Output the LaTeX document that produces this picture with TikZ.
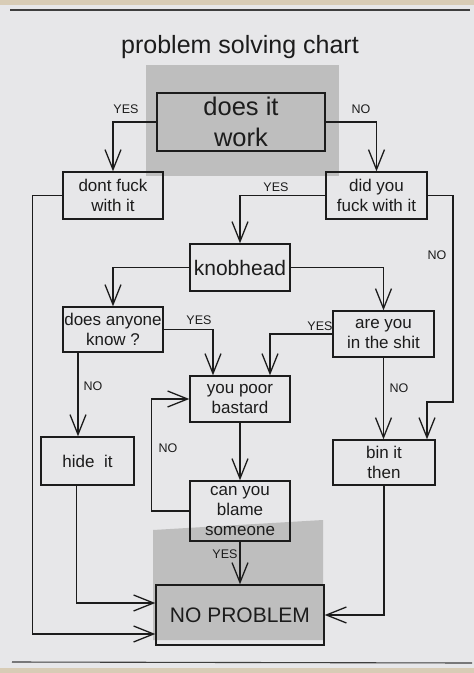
\documentclass[tikz,border=0pt]{standalone}
\usepackage{fontspec}
\setmainfont{Liberation Sans}
\usetikzlibrary{calc,arrows.meta}
\definecolor{paper}{HTML}{E7E7E9}
\definecolor{smudge}{HTML}{BEBEBE}
\definecolor{paperedge}{HTML}{D8CCB6}
\definecolor{ink}{HTML}{1C1C1C}

\begin{document}
\begin{tikzpicture}[x=1pt,y=-1pt,
   box/.style={draw=ink,line width=1.3pt,inner sep=0pt,align=center,
      text=ink,font=\fontsize{17}{20}\selectfont},
   yn/.style={inner sep=0pt,text=ink,font=\fontsize{12.5}{13}\selectfont},
   flow/.style={draw=ink,line width=1.3pt,-{Straight Barb[length=20pt,width=16pt]}},
   rule/.style={draw=ink!85,line width=1.1pt}]
\fill[paper] (0,0) rectangle (474,673);
\fill[paperedge] (0,0) rectangle (474,5);
\fill[paperedge] (0,668) rectangle (474,673);
\draw[rule] (10,10) -- (470,10);
\draw[rule] (12,662) -- (472,663);
\fill[smudge] (146,65) rectangle (339,176);
\fill[smudge] (153,530) -- (323,520) -- (323,640) -- (153,640) -- cycle;

\node[anchor=base,text=ink,font=\fontsize{25}{30}\selectfont] (title) at (240,53) {problem solving chart};

\node[box,minimum width=168pt,minimum height=58pt,font=\fontsize{25.5}{31}\selectfont] (work) at (241,122) {does it\\work};
\node[box,minimum width=100pt,minimum height=47pt] (dontfuck) at (113,195.5) {dont fuck\\with it};
\node[box,minimum width=101pt,minimum height=47pt] (didyou) at (376.5,195.5) {did you\\fuck with it};
\node[box,minimum width=100pt,minimum height=47pt,font=\fontsize{21}{24}\selectfont] (knobhead) at (240,267.5) {knobhead};
\node[box,minimum width=100pt,minimum height=45pt] (anyone) at (113,329.5) {does anyone\\know ?};
\node[box,minimum width=101pt,minimum height=46pt] (inshit) at (383.5,334) {are you\\in the shit};
\node[box,minimum width=100pt,minimum height=46pt] (poorbastard) at (240,399) {you poor\\bastard};
\node[box,minimum width=93pt,minimum height=48pt] (hideit) at (87.5,461) {hide\ \ it};
\node[box,minimum width=102pt,minimum height=45pt] (binit) at (384,462.5) {bin it\\then};
\node[box,minimum width=100pt,minimum height=60pt] (blame) at (240,511) {can you\\blame\\someone};
\node[box,minimum width=168pt,minimum height=60pt,font=\fontsize{21}{24}\selectfont] (noproblem) at (240,615) {NO PROBLEM};

\coordinate (noturn) at (453,402);
\coordinate (nohide) at ([xshift=-35pt]anyone.south);

\draw[flow] (work.west) -| (dontfuck.north);
\draw[flow] (work.east) -| (didyou.north);
\draw[flow] (didyou.west) -| (knobhead.north);
\draw[flow] (didyou.east) -| (noturn) -| ([xshift=43pt]binit.north);
\draw[flow] (knobhead.west) -| (anyone.north);
\draw[flow] (knobhead.east) -| (inshit.north);
\draw[flow] (anyone.east) -| ([xshift=-27pt]poorbastard.north);
\draw[flow] (inshit.west) -| ([xshift=30pt]poorbastard.north);
\draw[flow] (nohide) -- (nohide |- hideit.north);
\draw[flow] (inshit.south) -- (inshit.south |- binit.north);
\draw[flow] (poorbastard) -- (blame);
\draw[flow] (blame.west) -- ++(-38,0) |- (poorbastard.west);
\draw[flow] (blame) -- (noproblem);
\draw[flow] ([xshift=-11pt]hideit.south) |- ([yshift=12pt]noproblem.west);
\draw[flow] (binit.south) |- (noproblem.east);
\draw[flow] (dontfuck.west) -- ++(-30,0) |- ([yshift=-19pt]noproblem.west);

\node[yn] (yes1) at (126,109) {YES};
\node[yn] (no1) at (361,109) {NO};
\node[yn] (yes2) at (276,187) {YES};
\node[yn] (no2) at (437,255) {NO};
\node[yn] (yes3) at (199,320) {YES};
\node[yn] (yes4) at (320,326) {YES};
\node[yn] (no3) at (93,386) {NO};
\node[yn] (no4) at (399,388) {NO};
\node[yn] (no5) at (168,448) {NO};
\node[yn] (yes5) at (225,554) {YES};
\end{tikzpicture}
\end{document}
